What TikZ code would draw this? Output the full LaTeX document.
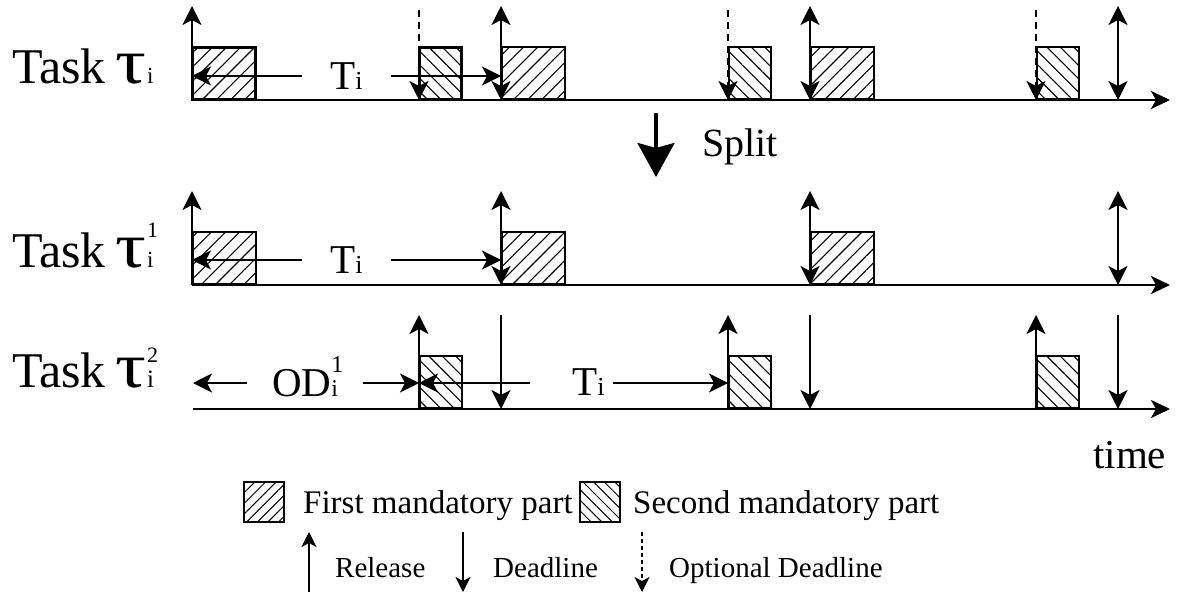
\documentclass[tikz,border=0pt]{standalone}
\usepackage{fontspec}
\setmainfont{Liberation Serif}
\usetikzlibrary{arrows.meta,patterns.meta}

% font sizes (1pt = 1 unit of the drawing grid)
\newcommand\fsz[1]{\fontsize{#1}{#1}\selectfont}
% "Task" set in a fixed-width box, followed by a wide tau
\newcommand\tasktau{\makebox[103pt][l]{Task}\scalebox{1.2}[1]{\fsz{64}τ}\hspace{1pt}}
\newcommand\subi[1]{{\fsz{#1}i}}

\tikzset{
  tip/.tip={Stealth[length=19pt,width=19pt,inset=5pt]},
  smalltip/.tip={Stealth[length=15pt,width=15pt,inset=4pt]},
  axisline/.style={line width=2.6pt,-{Stealth[length=19pt,width=18pt,inset=5pt]}},
  evt/.style={line width=2pt},
  uparrow/.style={evt,-tip},
  downarrow/.style={evt,-tip},
  bothway/.style={evt,tip-tip},
  optdl/.style={evt,dash pattern=on 7pt off 5pt,-tip},
  partA/.style={draw,line width=2.4pt,
    pattern={Lines[angle=45,distance=10pt,line width=1.1pt]},
    minimum width=63pt,minimum height=52pt,inner sep=0pt,anchor=south west},
  partB/.style={draw,line width=2.4pt,
    pattern={Lines[angle=-45,distance=9.5pt,line width=1.1pt]},
    minimum width=42pt,minimum height=52pt,inner sep=0pt,anchor=south west},
  keybox/.style={minimum width=40pt,minimum height=40pt,line width=2pt},
  tasklabel/.style={anchor=base west,inner sep=0pt,font=\fsz{50}},
  span/.style={inner sep=0pt,font=\fsz{41},minimum height=30pt},
  keytext/.style={anchor=base west,inner sep=0pt,font=\fsz{33}},
  keytextsmall/.style={anchor=base west,inner sep=0pt,font=\fsz{29}},
  keyarrow/.style={line width=1.7pt,-smalltip},
}

\begin{document}
\begin{tikzpicture}[x=1pt,y=-1pt]
\useasboundingbox (0,0) rectangle (1177,599);

% ---------------- row 1: task tau_i ----------------
\node[tasklabel] (lab1) at (12,84) {\tasktau\subi{23}};
\foreach \k/\x in {0/192,1/501,2/810}
  \node[partA] (r1a\k) at (\x,100) {};
\foreach \k/\x in {0/419,1/728,2/1036}
  \node[partB] (r1b\k) at (\x,100) {};
\coordinate (r1o) at (192,100);
\coordinate (r1e) at (1170,100);
\draw[axisline] (r1o) -- (r1e);
\coordinate (r1top) at (192,6);
\draw[uparrow] (r1o) -- (r1top);
\foreach \k/\x in {1/501,2/810,3/1118}{
  \coordinate (r1p\k) at (\x,100);
  \coordinate (r1q\k) at (\x,6);
  \draw[bothway] (r1p\k) -- (r1q\k);
}
\foreach \k/\x in {0/419,1/728,2/1036}{
  \coordinate (r1d\k) at (\x,10);
  \coordinate (r1f\k) at (\x,100);
  \draw[optdl] (r1d\k) -- (r1f\k);
}
\coordinate (r1L) at (192,76);
\coordinate (r1R) at (501,76);
\node[span,minimum width=88pt] (r1T) at (346.5,76) {T\subi{26}};
\draw[evt,-tip] (r1T.west) -- (r1L);
\draw[evt,-tip] (r1T.east) -- (r1R);

% ---------------- split ----------------
\coordinate (s1) at (656,113);
\coordinate (s2) at (656,177);
\draw[line width=3.4pt,-{Stealth[length=34pt,width=37pt,inset=5pt]}] (s1) -- (s2);
\node[anchor=base west,inner sep=0pt,font=\fsz{40}] (split) at (702,156) {Split};

% ---------------- row 2: task tau_i^1 ----------------
\node[tasklabel] (lab2) at (12,267)
  {\tasktau\rlap{\raisebox{30pt}{\fsz{22}1}}\subi{23}};
\foreach \k/\x in {0/192,1/501,2/810}
  \node[partA] (r2a\k) at (\x,285) {};
\coordinate (r2o) at (192,285);
\coordinate (r2e) at (1170,285);
\draw[axisline] (r2o) -- (r2e);
\coordinate (r2top) at (192,191);
\draw[uparrow] (r2o) -- (r2top);
\foreach \k/\x in {1/501,2/810,3/1118}{
  \coordinate (r2p\k) at (\x,285);
  \coordinate (r2q\k) at (\x,191);
  \draw[bothway] (r2p\k) -- (r2q\k);
}
\coordinate (r2L) at (192,260);
\coordinate (r2R) at (501,260);
\node[span,minimum width=88pt] (r2T) at (346.5,260) {T\subi{26}};
\draw[evt,-tip] (r2T.west) -- (r2L);
\draw[evt,-tip] (r2T.east) -- (r2R);

% ---------------- row 3: task tau_i^2 ----------------
\node[tasklabel] (lab3) at (12,387)
  {\tasktau\rlap{\raisebox{25pt}{\fsz{22}2}}\subi{25}};
\foreach \k/\x in {0/419,1/728,2/1036}
  \node[partB] (r3b\k) at (\x,409) {};
\coordinate (r3o) at (193,409);
\coordinate (r3e) at (1170,409);
\draw[axisline] (r3o) -- (r3e);
\foreach \k/\x in {0/419,1/728,2/1036}{
  \coordinate (r3u\k) at (\x,409);
  \coordinate (r3v\k) at (\x,315);
  \draw[uparrow] (r3u\k) -- (r3v\k);
}
\foreach \k/\x in {1/501,2/810,3/1118}{
  \coordinate (r3p\k) at (\x,315);
  \coordinate (r3q\k) at (\x,409);
  \draw[downarrow] (r3p\k) -- (r3q\k);
}
\coordinate (r3L) at (193,383);
\coordinate (r3M) at (419,383);
\coordinate (r3R) at (728,383);
\node[span,minimum width=116pt] (r3OD) at (305,383)
  {OD\rlap{\smash{\raisebox{24pt}{\fsz{24}1}}}\subi{24}};
\draw[evt,-tip] (r3OD.west) -- (r3L);
\draw[evt,-tip] (r3OD.east) -- (r3M);
% the period label sits towards the right of its gap
\node[anchor=base west,inner sep=0pt,font=\fsz{41}] (r3T) at (572,395) {T\subi{26}};
\coordinate (r3Ta) at (530,383);
\coordinate (r3Tb) at (613,383);
\draw[evt,-tip] (r3Ta) -- (r3M);
\draw[evt,-tip] (r3Tb) -- (r3R);

\node[anchor=base west,inner sep=0pt,font=\fsz{41}] (time) at (1093,468) {time};

% ---------------- key ----------------
\node[partA,keybox,pattern={Lines[angle=45,distance=7.5pt,line width=1pt]}]
  (keyA) at (243,522) {};
\node[keytext] (keyAt) at (303,513) {First mandatory part};
\node[partB,keybox,pattern={Lines[angle=-45,distance=7.5pt,line width=1pt]}]
  (keyB) at (579,522) {};
\node[keytext] (keyBt) at (633,513) {Second mandatory part};

\coordinate (kr1) at (309,592);
\coordinate (kr2) at (309,532);
\draw[keyarrow] (kr1) -- (kr2);
\node[keytextsmall] (krt) at (335,577) {Release};
\coordinate (kd1) at (463,532);
\coordinate (kd2) at (463,592);
\draw[keyarrow] (kd1) -- (kd2);
\node[keytextsmall] (kdt) at (493,577) {Deadline};
\coordinate (ko1) at (642,532);
\coordinate (ko2) at (642,592);
\draw[keyarrow,dash pattern=on 4pt off 3pt] (ko1) -- (ko2);
\node[keytextsmall] (kot) at (669,577) {Optional Deadline};
\end{tikzpicture}
\end{document}
